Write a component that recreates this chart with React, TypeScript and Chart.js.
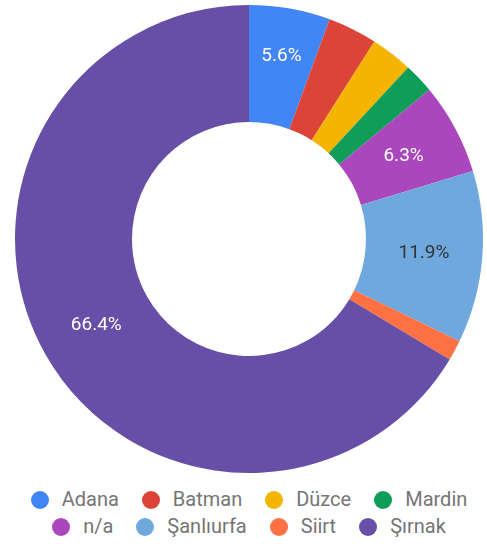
import React, { useEffect, useRef } from "react";
import { Chart, registerables } from "chart.js";

Chart.register(...registerables);

const regions = ["Adana", "Batman", "Düzce", "Mardin", "n/a", "Şanlıurfa", "Siirt", "Şırnak"];
const shares = [5.6, 3.4, 2.9, 2.1, 6.3, 11.9, 1.4, 66.4];
const sliceColors = ["#4285f4", "#db4437", "#f4b400", "#0f9d58", "#ab47bc", "#6fa8dc", "#ff7043", "#674ea7"];

const LABEL_MIN_PCT = 5;

function isLight(hex: string) {
  const n = parseInt(hex.slice(1), 16);
  const r = (n >> 16) & 255, g = (n >> 8) & 255, b = n & 255;
  return 0.299 * r + 0.587 * g + 0.114 * b > 140;
}

const sliceLabels = {
  id: "sliceLabels",
  afterDatasetsDraw(chart: any) {
    const ctx: CanvasRenderingContext2D = chart.ctx;
    const meta = chart.getDatasetMeta(0);
    const data = chart.data.datasets[0].data as number[];
    const colors = chart.data.datasets[0].backgroundColor as string[];
    const total = data.reduce((a, b) => a + b, 0);
    ctx.save();
    ctx.font = "19px Roboto";
    ctx.textAlign = "center";
    ctx.textBaseline = "middle";
    meta.data.forEach((el: any, i: number) => {
      const pct = (data[i] / total) * 100;
      if (pct < LABEL_MIN_PCT) return;
      const text = pct.toFixed(1) + "%";
      const { x, y, startAngle, endAngle, innerRadius, outerRadius } = el.getProps(
        ["x", "y", "startAngle", "endAngle", "innerRadius", "outerRadius"],
        true
      );
      const mid = (startAngle + endAngle) / 2;
      const w = ctx.measureText(text).width;
      const h = 14;
      const margin = 11;
      const sx = Math.cos(startAngle), sy = Math.sin(startAngle);
      const ex = Math.cos(endAngle), ey = Math.sin(endAngle);
      const fits = (rr: number) => {
        const cx = rr * Math.cos(mid), cy = rr * Math.sin(mid);
        let m = Infinity;
        for (const dx of [-w / 2, w / 2]) {
          for (const dy of [-h / 2, h / 2]) {
            const px = cx + dx, py = cy + dy;
            const d1 = sx * py - sy * px;
            const d2 = px * ey - py * ex;
            m = Math.min(m, d1, d2);
          }
        }
        return m >= margin;
      };
      let r = (innerRadius + outerRadius) / 2;
      while (!fits(r) && r < outerRadius - h) r += 1;
      ctx.fillStyle = isLight(colors[i]) ? "#333333" : "#ffffff";
      ctx.fillText(text, x + r * Math.cos(mid), y + r * Math.sin(mid));
    });
    ctx.restore();
  },
};

export default function App() {
  const ref = useRef<HTMLCanvasElement>(null);
  useEffect(() => {
    const chart = new Chart(ref.current as HTMLCanvasElement, {
      type: "doughnut",
      data: {
        labels: regions,
        datasets: [
          {
            data: shares,
            backgroundColor: sliceColors,
            borderWidth: 0,
            hoverOffset: 0,
          },
        ],
      },
      options: {
        responsive: true,
        maintainAspectRatio: false,
        animation: false,
        cutout: "50%",
        layout: { padding: { top: 5, bottom: 5, left: 11, right: 0 } },
        plugins: { legend: { display: false }, tooltip: { enabled: false } },
      },
      plugins: [sliceLabels],
    } as any);
    return () => chart.destroy();
  }, []);

  return (
    <div
      style={{
        position: "absolute",
        left: 0,
        top: 0,
        width: 487,
        height: 544,
        background: "#ffffff",
        fontFamily: "Roboto, sans-serif",
      }}
    >
      <div style={{ position: "absolute", left: 0, top: 0, width: 487, height: 478 }}>
        <canvas ref={ref} />
      </div>
      <div
        style={{
          position: "absolute",
          left: 11,
          top: 486,
          width: 476,
          display: "flex",
          flexWrap: "wrap",
          justifyContent: "center",
          columnGap: 23,
        }}
      >
        {regions.map((name, i) => (
          <div key={name} style={{ display: "flex", alignItems: "center", height: 27 }}>
            <span
              style={{
                width: 18,
                height: 18,
                borderRadius: "50%",
                background: sliceColors[i],
                marginRight: 13,
                flexShrink: 0,
              }}
            />
            <span style={{ fontSize: 20, color: "#757575", lineHeight: "27px", whiteSpace: "nowrap" }}>{name}</span>
          </div>
        ))}
      </div>
    </div>
  );
}
